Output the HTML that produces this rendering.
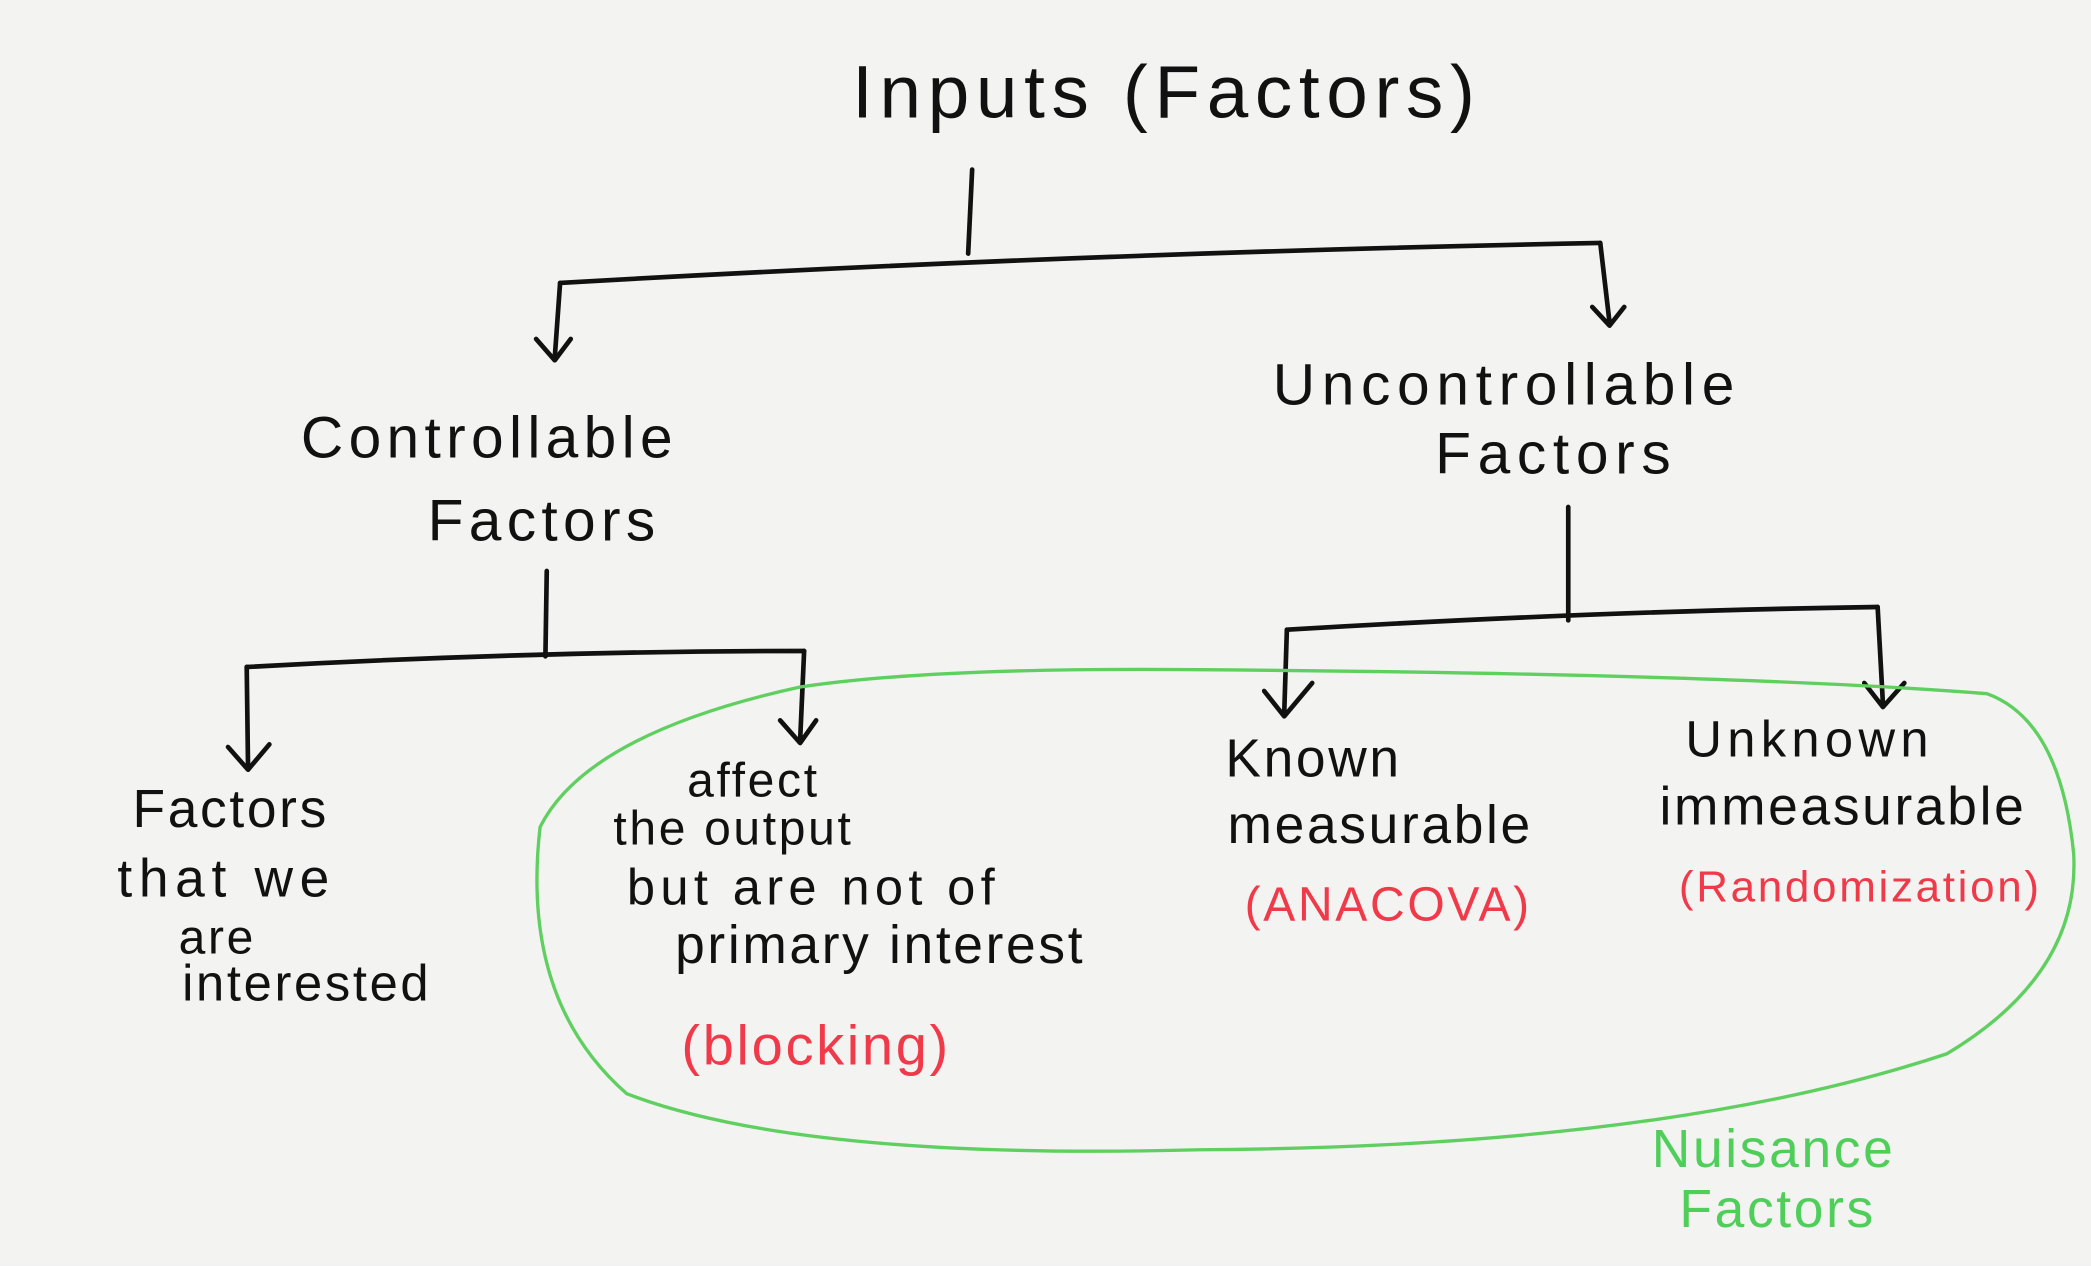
<!DOCTYPE html>
<html><head><meta charset="utf-8"><style>
html,body{margin:0;padding:0;background:#f3f3f2;}
svg{display:block}
text{font-family:"Liberation Sans",sans-serif;letter-spacing:2px;}
</style></head><body>
<svg width="2091" height="1266" viewBox="0 0 1568 949" xmlns="http://www.w3.org/2000/svg">
<rect width="1568" height="949" fill="#f3f3f2"/>
<g stroke="#111" stroke-width="3.5" fill="none" stroke-linecap="round" stroke-linejoin="round">
<path d="M729 127 L726 190"/>
<path d="M420 212 Q800 190 1200 182"/>
<path d="M420 212 L416 268 M402 254 L416 270 L428 254"/>
<path d="M1200 182 L1207 242 M1194 230 L1207 244 L1218 230"/>
<path d="M410 428 L409 492"/>
<path d="M185 500 Q400 488 603 488"/>
<path d="M185 500 L186 575 M171 560 L186 577 L202 558"/>
<path d="M603 488 L600 555 M585 540 L600 557 L612 540"/>
<path d="M1176 380 L1176 465"/>
<path d="M965 472 Q1200 458 1408 455"/>
<path d="M965 472 L963 535 M948 518 L963 537 L984 512"/>
<path d="M1408 455 L1412 528 M1398 512 L1412 530 L1428 512"/>
</g>
<path d="M600 515 Q440 550 405 620 Q390 750 470 820 Q600 870 900 862 Q1250 860 1460 790 Q1560 730 1555 640 Q1545 540 1490 520 Q1300 505 900 502 Q700 500 600 515 Z" fill="none" stroke="#5fcf5f" stroke-width="2.5"/>
<g fill="#111" font-size="44">
<text x="875" y="88" text-anchor="middle" font-size="56" style="letter-spacing:5px">Inputs (Factors)</text>
<text x="367" y="343" text-anchor="middle" style="letter-spacing:4px">Controllable</text>
<text x="408" y="405" text-anchor="middle" style="letter-spacing:4px">Factors</text>
<text x="1130" y="303" text-anchor="middle" style="letter-spacing:5px">Uncontrollable</text>
<text x="1167" y="355" text-anchor="middle" style="letter-spacing:5px">Factors</text>
<text x="173" y="620" text-anchor="middle" font-size="40">Factors</text>
<text x="170" y="672" text-anchor="middle" font-size="40" style="letter-spacing:5px">that we</text>
<text x="163" y="715" text-anchor="middle" font-size="36">are</text>
<text x="230" y="750" text-anchor="middle" font-size="38">interested</text>
<text x="565" y="597" text-anchor="middle" font-size="36">affect</text>
<text x="550" y="633" text-anchor="middle" font-size="36">the output</text>
<text x="610" y="678" text-anchor="middle" font-size="38" style="letter-spacing:4px">but are not of</text>
<text x="660" y="722" text-anchor="middle" font-size="40">primary interest</text>
<text x="985" y="582" text-anchor="middle" font-size="40">Known</text>
<text x="1035" y="632" text-anchor="middle" font-size="40">measurable</text>
<text x="1357" y="567" text-anchor="middle" font-size="38" style="letter-spacing:4px">Unknown</text>
<text x="1382" y="618" text-anchor="middle" font-size="40">immeasurable</text>
</g>
<g fill="#f03a4a">
<text x="612" y="798" text-anchor="middle" font-size="42">(blocking)</text>
<text x="1041" y="690" text-anchor="middle" font-size="36">(ANACOVA)</text>
<text x="1395" y="676" text-anchor="middle" font-size="33">(Randomization)</text>
</g>
<g fill="#4fcf5a" font-size="40">
<text x="1330" y="875" text-anchor="middle">Nuisance</text>
<text x="1333" y="920" text-anchor="middle">Factors</text>
</g>
</svg>
</body></html>
